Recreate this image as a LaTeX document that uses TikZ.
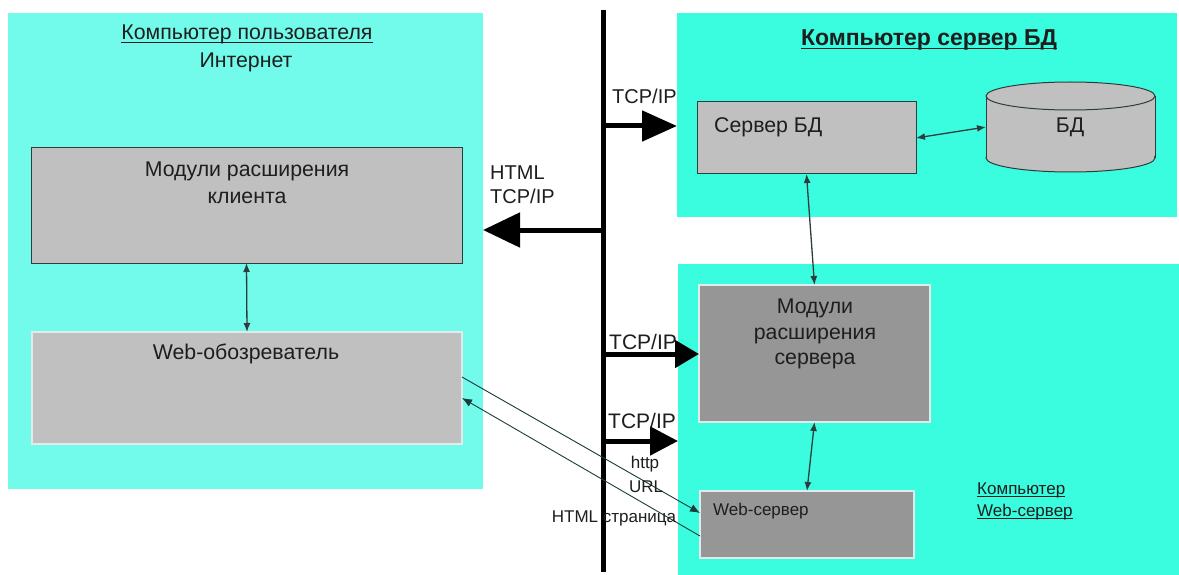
\documentclass[tikz,border=0pt]{standalone}
\usepackage{fontspec}
\setmainfont{Liberation Sans}
\usetikzlibrary{arrows.meta,calc}

\definecolor{cyanL}{RGB}{114,250,234}
\definecolor{cyanR}{RGB}{58,252,222}
\definecolor{grayL}{RGB}{192,192,192}
\definecolor{grayD}{RGB}{150,150,150}
\definecolor{edgeD}{RGB}{45,60,60}
\definecolor{edgeW}{RGB}{225,235,235}
\definecolor{inkT}{RGB}{30,30,30}
\definecolor{wireC}{RGB}{30,60,60}

\tikzset{
  panelL/.style={fill=cyanL, draw=none, inner sep=0pt, outer sep=0pt, anchor=north west},
  panelR/.style={fill=cyanR, draw=none, inner sep=0pt, outer sep=0pt, anchor=north west},
  boxLight/.style={fill=grayL, draw=edgeD, line width=1pt, inner sep=0pt, outer sep=0pt, anchor=north west},
  boxLightW/.style={fill=grayL, draw=edgeW, line width=1.2pt, inner sep=0pt, outer sep=0pt, anchor=north west},
  boxDark/.style={fill=grayD, draw=edgeW, line width=1.2pt, inner sep=0pt, outer sep=0pt, anchor=north west},
  txt/.style={text=inkT, inner sep=0pt, font=\fontsize{21.3}{27}\selectfont},
  small/.style={text=inkT, inner sep=0pt, font=\fontsize{17}{23}\selectfont},
  uline/.style={inkT, line width=#1},
  uline/.default=1pt,
  bus/.style={line width=5pt, black},
  bigarrow/.style={line width=5pt, black, -{Triangle[length=#1]}},
  link/.style={line width=1.3pt, edgeD, {Latex[length=9pt,width=7pt]}-{Latex[length=9pt,width=7pt]}},
  wire/.style={line width=0.9pt, wireC, -{Latex[length=10pt,width=8pt]}}
}

\begin{document}
\begin{tikzpicture}[x=1pt,y=-1pt]
\useasboundingbox[fill=white] (0,0) rectangle (1179,575);

% computer areas
\node[panelL, minimum width=475pt, minimum height=476pt] (lpanel) at (8,13) {};
\node[panelR, minimum width=500pt, minimum height=204pt] (trpanel) at (677,13) {};
\node[panelR, minimum width=501pt, minimum height=311pt] (brpanel) at (678,264) {};

% user computer
\node[txt, anchor=base] (ltitle) at (247,40) {Компьютер пользователя};
\draw[uline] ($(ltitle.base west)+(0,2.5)$) -- ($(ltitle.base east)+(0,2.5)$);
\node[txt] (inet) at (246,62) {Интернет};
\node[boxLight, minimum width=431pt, minimum height=115pt] (client) at (31,148) {};
\node[txt, align=center] (clienttxt) at (247,183) {Модули расширения\\клиента};
\node[boxLightW, minimum width=430pt, minimum height=112pt] (browser) at (32,332) {};
\node[txt] (browsertxt) at (246,354) {Web-обозреватель};
\draw[link] (client.south) -- (browser.north);

% database server computer
\node[txt, font=\fontsize{23}{27}\selectfont\bfseries, anchor=base] (trtitle) at (929,46) {Компьютер сервер БД};
\draw[uline=1.4pt] ($(trtitle.base west)+(0,2.5)$) -- ($(trtitle.base east)+(0,2.5)$);
\node[boxLight, minimum width=219pt, minimum height=72pt] (dbsrv) at (697,102) {};
\node[txt, anchor=west] (dbsrvtxt) at (714,127) {Сервер БД};

% database cylinder
\node[inner sep=0pt, outer sep=0pt, minimum width=169pt, minimum height=90pt, anchor=north west] (db) at (986,82) {};
\fill[grayL] (db.north west) ++(0,14) rectangle ($(db.south east)+(0,-14)$);
\filldraw[fill=grayL, draw=edgeD, line width=1pt] ($(db.south)+(0,-14)$) ellipse [x radius=84.5, y radius=14];
\fill[grayL] ($(db.north west)+(0.6,14)$) rectangle ($(db.south east)+(-0.6,-14)$);
\draw[edgeD, line width=1pt] ($(db.north west)+(0,14)$) -- ($(db.south west)+(0,-14)$)
                             ($(db.north east)+(0,14)$) -- ($(db.south east)+(0,-14)$);
\filldraw[fill=grayL, draw=edgeD, line width=1pt] ($(db.north)+(0,14)$) ellipse [x radius=84.5, y radius=14];
\node[txt] (dbtxt) at (1070,127) {БД};
\draw[link] (dbsrv.east) -- (db.west);

% web server computer
\node[boxDark, minimum width=231pt, minimum height=137pt] (modsrv) at (699,285) {};
\node[txt, align=center, font=\fontsize{21.3}{25.5}\selectfont] (modsrvtxt) at (815,334) {Модули\\расширения\\сервера};
\node[boxDark, minimum width=214pt, minimum height=67pt] (websrv) at (700,491) {};
\node[small, anchor=west] (websrvtxt) at (713,511) {Web-сервер};
\node[small, anchor=base west] (brtitle1) at (977,494) {Компьютер};
\node[small, anchor=base west] (brtitle2) at (977,516) {Web-сервер};
\draw[uline=0.9pt] ($(brtitle1.base west)+(0,2)$) -- ($(brtitle1.base east)+(0,2)$);
\draw[uline=0.9pt] ($(brtitle2.base west)+(0,2)$) -- ($(brtitle2.base east)+(0,2)$);
\draw[link] (dbsrv.south) -- (modsrv.north);
\draw[link] (modsrv.south) -- (websrv.north);

% network bus
\coordinate (busTop) at (603,10);
\coordinate (busBot) at (603,572);
\draw[bus] (busTop) -- (busBot);
\coordinate (b1) at (603,126);
\coordinate (b2) at (603,230);
\coordinate (b3) at (603,354);
\coordinate (b4) at (603,441);

\draw[bigarrow={35pt,width=30pt}] (b1) -- (b1 -| trpanel.west);
\draw[bigarrow={37pt,width=34pt}] (b2) -- (b2 -| lpanel.east);
\draw[bigarrow={24pt,width=27pt}] (b3) -- (b3 -| modsrv.west);
\draw[bigarrow={28pt,width=28pt}] (b4) -- (b4 -| brpanel.west);

\node[txt, font=\fontsize{20}{27}\selectfont, anchor=west] (lbl1) at (612,96) {TCP/IP};
\node[txt, font=\fontsize{20}{27}\selectfont, align=left, anchor=north west] (lbl2) at (490,166) {HTML\\[-3pt]TCP/IP};
\node[txt, font=\fontsize{21}{27}\selectfont, anchor=west] (lbl3) at (609,342) {TCP/IP};
\node[txt, font=\fontsize{21}{27}\selectfont, anchor=west] (lbl4) at (608,421) {TCP/IP};

% request and response
\draw[wire] ($(browser.north east)+(0,45)$) -- ($(websrv.north west)+(0,22)$);
\draw[wire] ($(websrv.north west)+(0,45)$) -- ($(browser.north east)+(0,66)$);
\node[small] (http) at (645,464) {http};
\node[small] (url) at (646,487) {URL};
\node[small] (page) at (614,518) {HTML страница};
\end{tikzpicture}
\end{document}
